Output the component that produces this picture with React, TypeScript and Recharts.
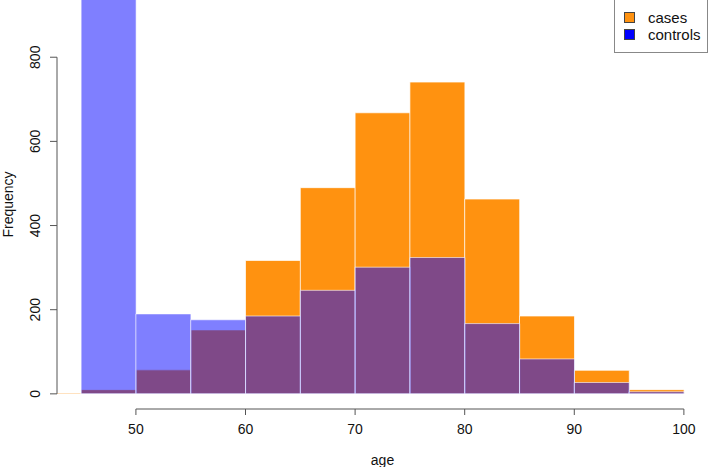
import { BarChart, Bar, XAxis, YAxis, Legend, ReferenceLine } from "recharts";

// histogram bins of width 5, identified by their midpoints
const binMids = [42.5, 47.5, 52.5, 57.5, 62.5, 67.5, 72.5, 77.5, 82.5, 87.5, 92.5, 97.5];
const cases = [2, 10, 57, 152, 317, 490, 668, 741, 463, 185, 56, 10];
const controls = [0, 1010, 190, 176, 185, 246, 301, 324, 167, 83, 27, 5];

const xTicks = [50, 60, 70, 80, 90, 100];
const yTicks = [0, 200, 400, 600, 800];

const seriesNames = ["cases", "controls"];
const legendColors = ["#FF9210", "#0000FF"];

const data = binMids.map((mid, i) => ({ mid, cases: cases[i], controls: controls[i] }));

const font = "'Liberation Sans', Arial, Helvetica, sans-serif";
const axisColor = "#555";

const YTick = (props: any) => {
  const { x, y, payload } = props;
  return (
    <text
      x={x}
      y={y}
      dy="0.35em"
      transform={`rotate(-90, ${x}, ${y})`}
      textAnchor="middle"
      fontSize={14}
      fontFamily={font}
      fill="#111"
    >
      {payload.value}
    </text>
  );
};

const LegendBox = () => (
  <div
    style={{
      border: "1px solid #888",
      boxSizing: "border-box",
      width: "100%",
      height: "100%",
      background: "#fff",
      fontFamily: font,
      fontSize: 15,
      color: "#111",
      paddingTop: 10,
      paddingLeft: 9,
    }}
  >
    {seriesNames.map((name, i) => (
      <div key={name} style={{ display: "flex", alignItems: "center", height: 17 }}>
        <span
          style={{
            display: "inline-block",
            width: 9,
            height: 9,
            background: legendColors[i],
            border: "1px solid #444",
            marginRight: 13,
          }}
        />
        <span>{name}</span>
      </div>
    ))}
  </div>
);

export default function App() {
  return (
    <div style={{ position: "absolute", left: 0, top: 0, background: "#fff" }}>
      <BarChart
        width={709}
        height={467}
        data={data}
        margin={{ top: 0, right: 1, left: 0, bottom: 0 }}
        barCategoryGap={0}
        barGap={0}
      >
        <XAxis
          xAxisId="cases"
          type="number"
          dataKey="mid"
          domain={[42.8, 102.2]}
          allowDataOverflow
          ticks={xTicks}
          axisLine={false}
          tickLine={{ stroke: axisColor }}
          tickSize={6}
          tickMargin={9}
          height={58}
          tick={{ fontSize: 14, fontFamily: font, fill: "#111" }}
          label={(props: any) => {
            const vb = props.viewBox;
            return (
              <text
                x={vb.x + vb.width / 2}
                y={460}
                dy="0.35em"
                textAnchor="middle"
                fontSize={14}
                fontFamily={font}
                fill="#111"
              >
                age
              </text>
            );
          }}
        />
        <XAxis
          xAxisId="controls"
          type="number"
          dataKey="mid"
          domain={[42.8, 102.2]}
          allowDataOverflow
          hide
        />
        <YAxis
          type="number"
          domain={[-36, 936]}
          allowDataOverflow
          ticks={yTicks}
          width={57}
          axisLine={false}
          tickLine={{ stroke: axisColor }}
          tickSize={7}
          tickMargin={15}
          tick={YTick}
          label={(props: any) => {
            const vb = props.viewBox;
            const cy = vb.y + vb.height / 2;
            return (
              <text
                x={8}
                y={cy}
                dy="0.35em"
                transform={`rotate(-90, 8, ${cy})`}
                textAnchor="middle"
                fontSize={14}
                fontFamily={font}
                fill="#111"
              >
                Frequency
              </text>
            );
          }}
        />
        <Bar
          xAxisId="cases"
          dataKey="cases"
          fill={legendColors[0]}
          stroke="rgba(255,255,255,0.7)"
          strokeWidth={1}
          isAnimationActive={false}
        />
        <Bar
          xAxisId="controls"
          dataKey="controls"
          fill="#0000FF"
          fillOpacity={0.5}
          stroke="rgba(255,255,255,0.6)"
          strokeWidth={1}
          isAnimationActive={false}
        />
        <ReferenceLine
          xAxisId="cases"
          segment={[
            { x: 42.8, y: 0 },
            { x: 42.8, y: 800 },
          ]}
          stroke={axisColor}
          strokeWidth={1}
          ifOverflow="visible"
        />
        <ReferenceLine
          xAxisId="cases"
          segment={[
            { x: 50, y: -36 },
            { x: 100, y: -36 },
          ]}
          stroke={axisColor}
          strokeWidth={1}
          ifOverflow="visible"
        />
        <Legend
          layout="vertical"
          align="center"
          verticalAlign="middle"
          content={<LegendBox />}
          wrapperStyle={{ position: "absolute", top: -2, left: 614, width: 94, height: 55 }}
        />
      </BarChart>
    </div>
  );
}
